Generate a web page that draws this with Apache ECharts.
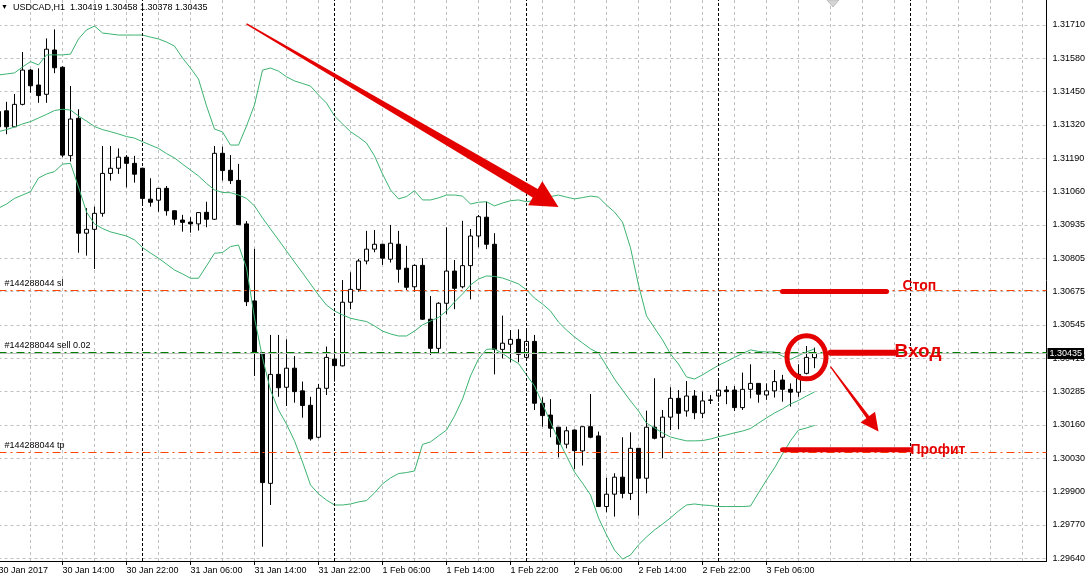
<!DOCTYPE html>
<html><head><meta charset="utf-8">
<script src="https://cdn.jsdelivr.net/npm/echarts@6/dist/echarts.min.js"></script>
<style>html,body{margin:0;padding:0;background:#fff;overflow:hidden}#c{width:1086px;height:581px}</style>
</head><body><div id="c"></div>
<script>
const symbolName = 'USDCAD', timeframe = 'H1';
const opens = [1.31374,1.31377,1.31315,1.31402,1.31535,1.31477,1.31441,1.31613,1.31546,1.31203,
1.31348,1.30902,1.30917,1.30979,1.31134,1.31154,1.31197,1.31173,1.31154,1.31034,
1.31030,1.31076,1.30989,1.30953,1.30945,1.30938,1.30983,1.30956,1.31212,1.31146,
1.31107,1.30938,1.30639,1.30438,1.29931,1.30354,1.30304,1.30378,1.30290,1.30234,
1.30110,1.30300,1.30413,1.30387,1.30634,1.30684,1.30794,1.30840,1.30859,1.30801,
1.30859,1.30766,1.30694,1.30777,1.30568,1.30455,1.30630,1.30755,1.30694,1.30776,
1.30891,1.30964,1.30859,1.30451,1.30471,1.30490,1.30420,1.30482,1.30242,1.30196,
1.30149,1.30083,1.30138,1.30057,1.30151,1.30115,1.29841,1.29889,1.29955,1.29892,
1.30067,1.29951,1.30149,1.30110,1.30188,1.30261,1.30212,1.30270,1.30203,1.30253,
1.30270,1.30293,1.30293,1.30225,1.30296,1.30319,1.30274,1.30290,1.30332,1.30296,
1.30285,1.30358,1.30419];
const highs = [1.31407,1.31412,1.31442,1.31605,1.31539,1.31542,1.31658,1.31693,1.31550,1.31473,
1.31383,1.30999,1.31005,1.31240,1.31240,1.31231,1.31205,1.31202,1.31156,1.31115,
1.31077,1.31085,1.30990,1.30973,1.30964,1.30982,1.31024,1.31240,1.31238,1.31205,
1.31171,1.30949,1.30841,1.30440,1.30507,1.30507,1.30490,1.30425,1.30326,1.30267,
1.30317,1.30462,1.30485,1.30720,1.30750,1.30802,1.30911,1.30914,1.30861,1.30934,
1.30911,1.30853,1.30781,1.30805,1.30658,1.30634,1.30925,1.30798,1.30950,1.30918,
1.30973,1.31024,1.30902,1.30582,1.30526,1.30529,1.30529,1.30507,1.30265,1.30258,
1.30150,1.30151,1.30140,1.30151,1.30278,1.30132,1.29953,1.29970,1.30110,1.30129,
1.30068,1.30213,1.30339,1.30216,1.30304,1.30293,1.30328,1.30293,1.30287,1.30274,
1.30339,1.30309,1.30309,1.30361,1.30393,1.30320,1.30319,1.30371,1.30352,1.30319,
1.30393,1.30464,1.30458];
const lows = [1.31283,1.31286,1.31314,1.31398,1.31447,1.31408,1.31408,1.31523,1.31197,1.31180,
1.30826,1.30815,1.30763,1.30966,1.31106,1.31132,1.31080,1.31098,1.31011,1.31005,
1.30985,1.30970,1.30934,1.30908,1.30904,1.30912,1.30925,1.30953,1.31106,1.31093,
1.30934,1.30619,1.30348,1.29685,1.29847,1.30267,1.30231,1.30244,1.30186,1.30097,
1.30106,1.30274,1.30326,1.30385,1.30607,1.30675,1.30781,1.30828,1.30779,1.30788,
1.30710,1.30681,1.30675,1.30565,1.30429,1.30433,1.30587,1.30607,1.30688,1.30645,
1.30847,1.30840,1.30354,1.30416,1.30401,1.30401,1.30416,1.30216,1.30151,1.30110,
1.30032,1.30067,1.29987,1.30000,1.30106,1.29839,1.29819,1.29802,1.29873,1.29866,
1.29806,1.29892,1.30102,1.30028,1.30138,1.30141,1.30190,1.30180,1.30184,1.30239,
1.30248,1.30238,1.30212,1.30216,1.30261,1.30244,1.30255,1.30264,1.30248,1.30229,
1.30267,1.30354,1.30378];
const closes = [1.31315,1.31315,1.31402,1.31535,1.31474,1.31436,1.31616,1.31544,1.31205,1.31345,
1.30902,1.30917,1.30979,1.31134,1.31154,1.31197,1.31173,1.31131,1.31037,1.31022,
1.31076,1.30989,1.30956,1.30944,1.30938,1.30982,1.30956,1.31212,1.31145,1.31106,
1.30935,1.30636,1.30438,1.29934,1.30354,1.30302,1.30378,1.30287,1.30233,1.30104,
1.30300,1.30420,1.30388,1.30634,1.30684,1.30794,1.30840,1.30859,1.30805,1.30863,
1.30762,1.30692,1.30777,1.30568,1.30455,1.30630,1.30755,1.30688,1.30776,1.30891,
1.30966,1.30859,1.30451,1.30475,1.30490,1.30432,1.30482,1.30242,1.30194,1.30145,
1.30083,1.30135,1.30058,1.30151,1.30110,1.29841,1.29889,1.29955,1.29892,1.30067,
1.29951,1.30149,1.30106,1.30188,1.30261,1.30203,1.30270,1.30205,1.30251,1.30255,
1.30293,1.30287,1.30225,1.30296,1.30319,1.30277,1.30290,1.30326,1.30296,1.30285,
1.30354,1.30420,1.30435];
const bbUpper = [1.31516,1.31520,1.31524,1.31547,1.31568,1.31555,1.31594,1.31594,1.31594,1.31597,
1.31656,1.31691,1.31706,1.31679,1.31675,1.31671,1.31671,1.31671,1.31671,1.31663,
1.31656,1.31644,1.31628,1.31582,1.31543,1.31500,1.31396,1.31306,1.31295,1.31244,
1.31244,1.31318,1.31400,1.31535,1.31543,1.31531,1.31509,1.31493,1.31483,1.31473,
1.31438,1.31407,1.31357,1.31326,1.31296,1.31275,1.31252,1.31202,1.31132,1.31070,
1.31035,1.31044,1.31067,1.31031,1.31031,1.31039,1.31050,1.31050,1.31046,1.31015,
1.31022,1.31024,1.31008,1.31019,1.31028,1.31031,1.31024,1.31029,1.31035,1.31044,
1.31050,1.31042,1.31035,1.31040,1.31046,1.31042,1.31011,1.30984,1.30945,1.30845,
1.30701,1.30581,1.30534,1.30488,1.30433,1.30394,1.30344,1.30336,1.30352,1.30371,
1.30389,1.30404,1.30420,1.30435,1.30449,1.30443,1.30441,1.30441,1.30425,1.30412,
1.30427,1.30441,1.30453];
const bbMiddle = [1.31296,1.31304,1.31314,1.31326,1.31335,1.31349,1.31363,1.31378,1.31383,1.31380,
1.31357,1.31337,1.31316,1.31304,1.31296,1.31287,1.31277,1.31271,1.31257,1.31244,
1.31231,1.31211,1.31194,1.31170,1.31147,1.31124,1.31095,1.31070,1.31060,1.31059,
1.31050,1.31037,1.31008,1.30961,1.30918,1.30876,1.30833,1.30790,1.30748,1.30705,
1.30662,1.30623,1.30600,1.30585,1.30572,1.30565,1.30559,1.30542,1.30522,1.30511,
1.30503,1.30503,1.30522,1.30546,1.30561,1.30575,1.30600,1.30635,1.30666,1.30701,
1.30724,1.30736,1.30734,1.30728,1.30717,1.30705,1.30682,1.30650,1.30627,1.30600,
1.30557,1.30526,1.30499,1.30476,1.30453,1.30437,1.30387,1.30336,1.30293,1.30251,
1.30212,1.30165,1.30146,1.30127,1.30111,1.30103,1.30096,1.30096,1.30097,1.30103,
1.30112,1.30119,1.30127,1.30134,1.30144,1.30165,1.30185,1.30204,1.30220,1.30239,
1.30253,1.30270,1.30286];
const bbLower = [1.30999,1.31015,1.31037,1.31050,1.31063,1.31116,1.31132,1.31141,1.31170,1.31173,
1.31081,1.30984,1.30938,1.30920,1.30907,1.30899,1.30891,1.30876,1.30846,1.30825,
1.30805,1.30782,1.30759,1.30744,1.30727,1.30727,1.30775,1.30824,1.30827,1.30850,
1.30856,1.30767,1.30573,1.30418,1.30293,1.30216,1.30161,1.30096,1.30014,1.29925,
1.29890,1.29866,1.29847,1.29847,1.29851,1.29859,1.29864,1.29894,1.29929,1.29952,
1.29969,1.29973,1.29979,1.30082,1.30092,1.30115,1.30138,1.30192,1.30258,1.30348,
1.30414,1.30451,1.30453,1.30435,1.30414,1.30396,1.30352,1.30309,1.30239,1.30169,
1.30099,1.30037,1.29975,1.29932,1.29886,1.29797,1.29731,1.29672,1.29637,1.29653,
1.29692,1.29723,1.29750,1.29773,1.29797,1.29824,1.29847,1.29851,1.29847,1.29845,
1.29841,1.29841,1.29841,1.29841,1.29843,1.29894,1.29944,1.29991,1.30045,1.30096,
1.30138,1.30146,1.30156];
const yTickLabels = ['1.29640','1.29770','1.29900','1.30030','1.30160','1.30285','1.30415','1.30545','1.30675',
  '1.30805','1.30935','1.31060','1.31190','1.31320','1.31450','1.31580','1.31710'];
const slPrice = 1.30680, entryPrice = 1.30440, tpPrice = 1.30051, bidPrice = 1.30435;
const orderLabels = ['#144288044 sl', '#144288044 sell 0.02', '#144288044 tp'];
const separatorIdx = [18, 42, 66, 90, 114];
const slotCount = 132;
const MONTHS = ['Jan','Feb','Mar','Apr','May','Jun','Jul','Aug','Sep','Oct','Nov','Dec'];
const startUTC = Date.UTC(2017, 0, 30, 6);
const categories = [];
const timeLabels = [];
for (let k = 0; k < slotCount; k++) {
  const d = new Date(startUTC + k * 3600000);
  categories.push(d.toISOString());
  const hh = String(d.getUTCHours()).padStart(2, '0');
  timeLabels.push(k === 0 ? d.getUTCDate() + ' ' + MONTHS[d.getUTCMonth()] + ' ' + d.getUTCFullYear()
    : d.getUTCDate() + ' ' + MONTHS[d.getUTCMonth()] + ' ' + hh + ':00');
}
// annotation anchors [bar index, price]
const annBigArrow = [[30.94, 1.31714], [69.63, 1.31004]];
const annStopLine = [[98.06, 1.30676], [111.44, 1.30676]];
const annStopText = [112.6, 1.30697];
const annEntryCircle = [101.25, 1.30420];
const annEntryLine = [[103.69, 1.30438], [111.6, 1.30438]];
const annEntryText = [111.7, 1.30441];
const annDownArrow = [[104.35, 1.30384], [110.28, 1.30132]];
const annProfitLine = [[98.06, 1.30061], [113.94, 1.30061]];
const annProfitText = [114.06, 1.30061];

const FONT = 'Liberation Sans';
const nBars = opens.length;
const last = nBars - 1;
const fmt = v => v.toFixed(5);
const titleText = symbolName + ',' + timeframe + '  ' + fmt(opens[last]) + ' ' + fmt(highs[last]) + ' ' + fmt(lows[last]) + ' ' + fmt(closes[last]);
const candleData = opens.map((o, i) => [o, closes[i], lows[i], highs[i]]);
const showLabel = (i) => i % 8 === 0 && i <= last;

const chart = echarts.init(document.getElementById('c'), null, {renderer: 'canvas'});
const dashDot = [8, 4, 2, 4];
const option = {
  animation: false,
  backgroundColor: '#fff',
  title: {
    left: 1, top: 3, padding: 0,
    text: '{tri|▼}{t|' + titleText + '}',
    textStyle: {
      fontWeight: 'normal', fontSize: 9, fontFamily: FONT, color: '#000',
      rich: {
        tri: {fontSize: 7, fontWeight: 'normal', color: '#000', fontFamily: FONT, padding: [0, 5, 0, 0]},
        t: {fontSize: 9, fontWeight: 'normal', color: '#000', fontFamily: FONT}
      }
    }
  },
  grid: [
    {left: -1.5, right: 39.5, top: 0, bottom: 20, outerBoundsMode: 'none', containLabel: false},
    {left: -1.5, right: 39.5, top: -8.333, bottom: -10.667, outerBoundsMode: 'none', containLabel: false}
  ],
  xAxis: [
    {
      type: 'category', gridIndex: 0, data: categories, boundaryGap: false,
      axisLine: {show: true, onZero: false, lineStyle: {color: '#000', width: 1}},
      axisTick: {show: true, interval: showLabel, length: 4, lineStyle: {color: '#000'}},
      axisLabel: {show: true, interval: showLabel, formatter: (v, i) => timeLabels[i] || '', align: 'left',
        margin: 5, color: '#000', fontSize: 9, fontFamily: FONT},
      splitLine: {show: true, interval: (i) => i % 4 === 0, lineStyle: {color: '#c0c0c0', type: [3, 3], width: 1}}
    },
    {type: 'value', gridIndex: 1, min: 0, max: 1, show: false}
  ],
  yAxis: [
    {
      type: 'value', gridIndex: 0, position: 'right', min: 1.2962965, max: 1.3180702, scale: true,
      axisLine: {show: true, lineStyle: {color: '#000', width: 1}},
      axisTick: {show: false}, axisLabel: {show: false}, splitLine: {show: false}
    },
    {
      type: 'value', gridIndex: 1, position: 'right', min: -1, max: 17, interval: 1,
      axisLine: {show: false}, axisTick: {show: false},
      axisLabel: {show: true, margin: 6, color: '#000', fontSize: 9, fontFamily: FONT,
        formatter: (v) => { const k = Math.round(v); return (k >= 0 && k < yTickLabels.length) ? yTickLabels[k] : ''; }},
      splitLine: {show: true, lineStyle: {color: '#c0c0c0', type: [3, 3], width: 1}}
    }
  ],
  series: [
    {
      type: 'candlestick', xAxisIndex: 0, yAxisIndex: 0, data: candleData, barWidth: 4, silent: true,
      itemStyle: {color: '#fff', color0: '#000', borderColor: '#000', borderColor0: '#000', borderWidth: 1},
      markLine: {
        silent: true, symbol: ['none', 'none'], precision: 5, animation: false,
        data: [
          ...separatorIdx.map(i => ({xAxis: i, lineStyle: {color: '#000', type: [3, 2], width: 1}, label: {show: false}})),
          {yAxis: bidPrice, lineStyle: {color: '#c0c0c0', type: 'solid', width: 1},
            label: {show: true, position: 'end', formatter: fmt(bidPrice), color: '#fff', backgroundColor: '#000',
              fontSize: 9, fontFamily: FONT, padding: [1, 2, 1, 2], distance: 1}},
          {yAxis: slPrice, lineStyle: {color: '#ff4500', type: dashDot, width: 1},
            label: {show: true, position: 'insideStartTop', formatter: orderLabels[0], color: '#000', fontSize: 9, fontFamily: FONT, distance: [6, 2]}},
          {yAxis: entryPrice, lineStyle: {color: '#008000', type: dashDot, width: 1},
            label: {show: true, position: 'insideStartTop', formatter: orderLabels[1], color: '#000', fontSize: 9, fontFamily: FONT, distance: [6, 2]}},
          {yAxis: tpPrice, lineStyle: {color: '#ff4500', type: dashDot, width: 1},
            label: {show: true, position: 'insideStartTop', formatter: orderLabels[2], color: '#000', fontSize: 9, fontFamily: FONT, distance: [6, 2]}}
        ]
      }
    },
    {type: 'line', xAxisIndex: 0, yAxisIndex: 0, data: bbUpper, symbol: 'none', silent: true, lineStyle: {color: '#3cb371', width: 1}},
    {type: 'line', xAxisIndex: 0, yAxisIndex: 0, data: bbMiddle, symbol: 'none', silent: true, lineStyle: {color: '#3cb371', width: 1}},
    {type: 'line', xAxisIndex: 0, yAxisIndex: 0, data: bbLower, symbol: 'none', silent: true, lineStyle: {color: '#3cb371', width: 1}}
  ]
};
chart.setOption(option);

const RED = '#e50000';
const P = (pt) => chart.convertToPixel({xAxisIndex: 0, yAxisIndex: 0}, pt);
function arrowPoly(a, b, w0, w1, headLen, headHalf) {
  const dx = b[0] - a[0], dy = b[1] - a[1], L = Math.hypot(dx, dy), ux = dx / L, uy = dy / L, px = -uy, py = ux;
  const bx = b[0] - ux * headLen, by = b[1] - uy * headLen;
  return [[a[0] + px * w0 / 2, a[1] + py * w0 / 2], [bx + px * w1 / 2, by + py * w1 / 2], [bx + px * headHalf, by + py * headHalf],
    [b[0], b[1]], [bx - px * headHalf, by - py * headHalf], [bx - px * w1 / 2, by - py * w1 / 2], [a[0] - px * w0 / 2, a[1] - py * w0 / 2]];
}
const g = [];
const ba = annBigArrow.map(P);
g.push({type: 'polygon', shape: {points: arrowPoly(ba[0], ba[1], 1.5, 10, 27, 14)}, style: {fill: RED}, silent: true, z: 100});
const da = annDownArrow.map(P);
g.push({type: 'polygon', shape: {points: arrowPoly(da[0], da[1], 1.2, 3.5, 18, 9)}, style: {fill: RED}, silent: true, z: 100});
const lineG = (seg, w) => { const a = P(seg[0]), b = P(seg[1]); return {type: 'line', shape: {x1: a[0], y1: a[1], x2: b[0], y2: b[1]}, style: {stroke: RED, lineWidth: w, lineCap: 'round'}, silent: true, z: 100}; };
g.push(lineG(annStopLine, 5));
g.push(lineG(annProfitLine, 5));
g.push(lineG(annEntryLine, 6));
const cc = P(annEntryCircle);
g.push({type: 'ellipse', shape: {cx: cc[0], cy: cc[1], rx: 19.5, ry: 21.5}, style: {stroke: RED, lineWidth: 5, fill: 'none'}, silent: true, z: 100});
const textG = (pt, txt, size) => { const p = P(pt); return {type: 'text', x: p[0], y: p[1], style: {text: txt, fill: RED, font: 'bold ' + size + 'px "' + FONT + '"', align: 'left', verticalAlign: 'middle'}, silent: true, z: 100}; };
g.push(textG(annStopText, 'Стоп', 14));
g.push(textG(annEntryText, 'Вход', 19));
g.push(textG(annProfitText, 'Профит', 14));
// chart-shift marker at the top edge
g.push({type: 'polygon', shape: {points: [[827, 0], [839, 0], [833, 7]]}, style: {fill: '#d4d4d4', stroke: '#bdbdbd', lineWidth: 1}, silent: true, z: 100});
chart.setOption({graphic: g});
</script>
</body></html>
